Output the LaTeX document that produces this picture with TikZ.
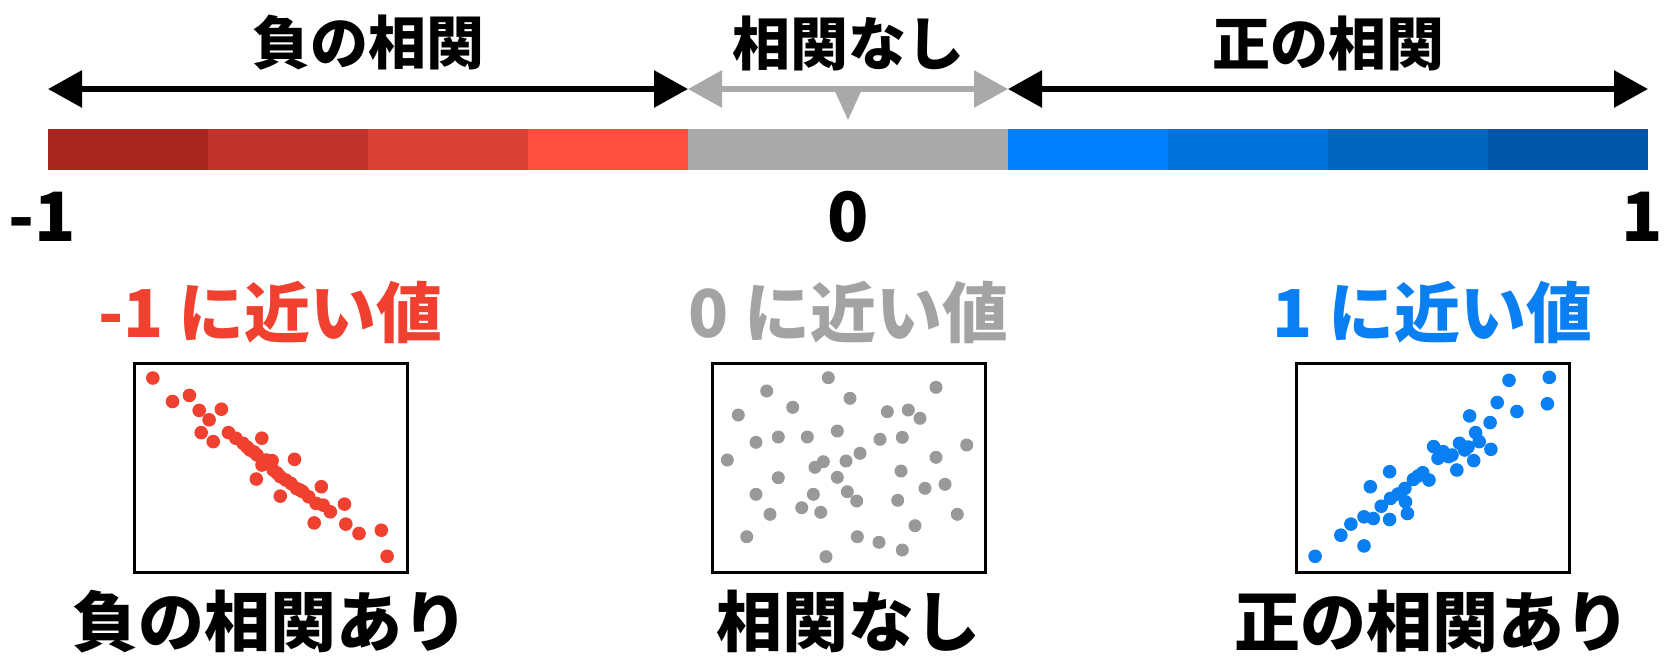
\documentclass[tikz,border=0pt]{standalone}
\usepackage{fontspec}
\setmainfont{Noto Sans CJK JP}
\usetikzlibrary{arrows.meta,positioning}
\usepackage{xcolor}
\definecolor{rA}{HTML}{A8241F}
\definecolor{rB}{HTML}{C1322B}
\definecolor{rC}{HTML}{DA4235}
\definecolor{rD}{HTML}{FF4F40}
\definecolor{gA}{HTML}{A9A9A9}
\definecolor{bA}{HTML}{0080FF}
\definecolor{bB}{HTML}{0072DB}
\definecolor{bC}{HTML}{0066BF}
\definecolor{bD}{HTML}{0055A6}
\definecolor{negc}{HTML}{F0402F}
\definecolor{nonec}{HTML}{A3A3A3}
\definecolor{posc}{HTML}{0A7FF2}
\definecolor{dotg}{HTML}{999999}
\begin{document}
\begin{tikzpicture}[x=1pt, y=-1pt,
  head/.style = {font=\fontsize{58}{60}\selectfont\bfseries, inner sep=0},
  big/.style = {font=\fontsize{66}{70}\selectfont\bfseries, inner sep=0},
  num/.style = {font=\fontsize{68}{70}\selectfont\bfseries, inner sep=0},
  span/.style = {line width=6pt, {Triangle[length=34pt,width=36pt]}-{Triangle[length=34pt,width=36pt]}},
  box/.style = {draw, line width=3pt, minimum width=273pt, minimum height=209pt, inner sep=0}]
	\fill[white] (0,0) rectangle (1664,657);
	\useasboundingbox (0,0) rectangle (1664,657);
	% scale
	\foreach \c [count=\i from 0] in {rA,rB,rC,rD}
		\fill[\c] (48+160*\i,129) rectangle (208+160*\i,170);
	\fill[gA] (688,129) rectangle (1008,170);
	\foreach \c [count=\i from 0] in {bA,bB,bC,bD}
		\fill[\c] (1008+160*\i,129) rectangle (1168+160*\i,170);
	\coordinate (pneg) at (48,89);
	\coordinate (plow) at (688,89);
	\coordinate (phigh) at (1008,89);
	\coordinate (ppos) at (1648,89);
	\draw[span] (pneg) -- (plow);
	\draw[span, gA] (plow) -- (phigh);
	\draw[span] (phigh) -- (ppos);
	\fill[gA] (833,87) -- (863,87) -- (848,120) -- cycle;
	\node[head] (tneg) at (368,43) {負の相関};
	\node[head] (tnone) at (848,43) {相関なし};
	\node[head] (tpos) at (1328,43) {正の相関};
	\node[num] (nneg) at (42,217) {-1};
	\node[num] (nzero) at (848,217) {0};
	\node[num, anchor=east] (npos) at (1663,217) {1};
	% boxes
	\node[box] (bneg) at (270.5,467.5) {};
	\node[box] (bnone) at (848.5,467.5) {};
	\node[box] (bpos) at (1432.5,467.5) {};
	\node[big, negc] (vneg) [above=18pt of bneg] {-1 に近い値};
	\node[big, nonec] (vnone) [above=18pt of bnone] {0 に近い値};
	\node[big, posc] (vpos) [above=18pt of bpos] {1 に近い値};
	\node[big] (cneg) [below=16pt of bneg] {負の相関あり};
	\node[big] (cnone) [below=16pt of bnone] {相関なし};
	\node[big] (cpos) [below=16pt of bpos] {正の相関あり};
	% dots
	\foreach \p in {(152.8,378),(172.5,401.5),(189.4,395.4),(199.2,410.4),(209.1,419.8),(221.4,409.2),
		(201.2,432.6),(213.2,441.6),(228.5,432.6),(235.8,438.2),(243,443.3),(250,450),(257.1,455),
		(261.8,438.2),(266.1,460),(272.1,460.6),(273.2,470),(256.3,479),(280.3,476.7),(285.8,480),
		(294.5,459.3),(291,483.4),(296.4,488.4),(280.3,496.1),(302.7,491.7),(308.7,496.8),(321.3,486.7),
		(316.1,503.4),(323.2,505.1),(330.3,511.8),(344.5,504.1),(314.2,522.9),(345.8,524.1),(359,533.5),
		(381.3,530.2),(387.1,556.3),(247,447),(254,452),(277,473),(262,465),(300,490)}
		\fill[negc] \p circle (6.8pt);
	\foreach \p in {(828.3,377.7),(766.7,391),(936,387.3),(850,398.3),(792.7,407.3),(738.3,415),
		(887.3,411.7),(908.3,410),(920,418.3),(837.3,431),(756,442.3),(778.3,437),(807.3,437),(880,439.3),
		(902.3,437.3),(966.7,445),(860,453.3),(727.3,460),(823.3,461.7),(815,467.3),(846,461),(936,457.3),
		(901,471),(778.3,477.7),(837.3,477.3),(945,484.3),(925,488.3),(756,494.3),(813.3,494.3),
		(847.3,491.7),(856.7,501),(897.7,500.3),(801.7,507.7),(820.7,512.3),(770,514.3),(957.3,514.3),
		(915,525.7),(746.7,536.7),(857.3,536.7),(879,542.3),(902.3,550),(826,556.7)}
		\fill[dotg] \p circle (6.5pt);
	\foreach \p in {(1315.1,556.3),(1340.8,535.2),(1350.9,524.1),(1364,516.8),(1373.3,518.5),(1364,545.9),
		(1370.3,486.7),(1381.2,506.2),(1390.5,498.4),(1389.6,519.5),(1389.6,471.7),(1404.9,488.4),
		(1405.5,501.8),(1407.4,513.5),(1413.4,479.4),(1422.7,472.7),(1429,480),(1433.6,446.6),(1438,458.3),
		(1443.1,451.6),(1448.6,456.6),(1456.8,470),(1459.5,443.3),(1464.7,450),(1469.6,415.9),(1475.6,432.6),
		(1479.2,441.6),(1473.7,460.6),(1490.9,449.3),(1490.1,422.6),(1497.2,402.5),(1516.9,411.5),
		(1509,380.3),(1549.3,377.4),(1547.4,403.8),(1418,476),(1452,455),(1468,447),(1398,494)}
		\fill[posc] \p circle (6.8pt);
\end{tikzpicture}
\end{document}
